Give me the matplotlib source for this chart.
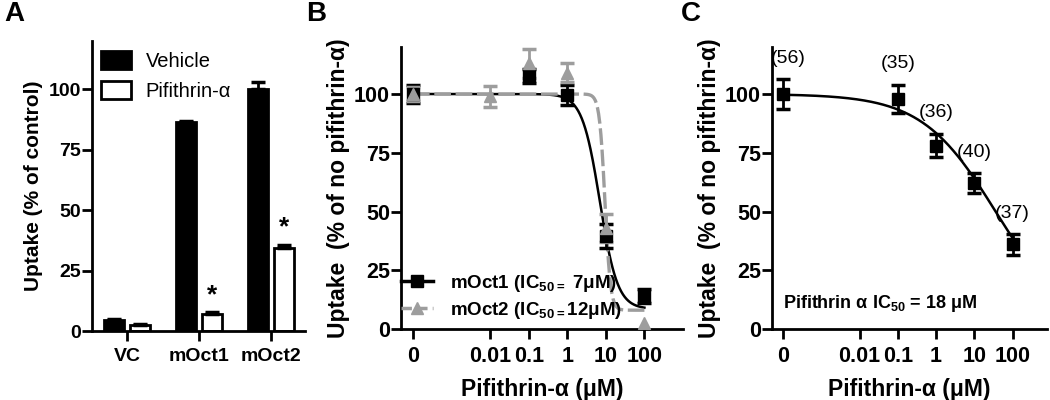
import numpy as np
import matplotlib
matplotlib.use("Agg")
import matplotlib.pyplot as plt
from matplotlib.lines import Line2D
from matplotlib.patches import Patch

plt.rcParams['font.family'] = ['Liberation Sans', 'DejaVu Sans']
plt.rcParams['font.weight'] = 'bold'
plt.rcParams['axes.labelweight'] = 'bold'
plt.rcParams['mathtext.fontset'] = 'custom'
plt.rcParams['mathtext.rm'] = 'Liberation Sans'
plt.rcParams['mathtext.bf'] = 'Liberation Sans:bold'
plt.rcParams['mathtext.default'] = 'bf'
plt.rcParams['axes.linewidth'] = 2

# --- panel A: uptake by cell line
groups = ['VC', 'mOct1', 'mOct2']
vehicle = [4.5, 86.5, 100]
vehicle_err = [0.5, 0.4, 3.2]
pifithrin = [2.3, 7.0, 34.5]
pifithrin_err = [0.4, 0.8, 1.2]
significant = [False, True, True]

# --- panel B: dose response mOct1 / mOct2
moct1_conc = [0, 0.1, 1, 10, 100]
moct1_uptake = [100, 107.5, 99.5, 39.5, 14]
moct1_err = [4, 3, 4.2, 5, 3]
moct2_conc = [0, 0.01, 0.1, 1, 10, 100]
moct2_uptake = [100, 99, 113, 109, 43, 2.5]
moct2_err = [3, 4.5, 6, 4, 6, 0]
# fitted curve params (top, bottom, midpoint, hill)
moct1_fit = (100, 8.5, 7, 1.9)
moct2_fit = (100, 8, 9.5, 6)

# --- panel C: dose response, n per point
c_conc = [0, 0.1, 1, 10, 100]
c_uptake = [100, 98, 78, 62, 36]
c_err = [6.2, 6, 5, 4.3, 4.3]
c_n = ['(56)', '(35)', '(36)', '(40)', '(37)']
c_fit = (100, 0, 36, 0.45)

conc_ticks = [0, 0.01, 0.1, 1, 10, 100]
conc_labels = ['0', '0.01', '0.1', '1', '10', '100']
ZERO_POS = 1e-4   # where "0" sits on the log axis
GRAY = '#9d9d9d'


def xpos(c):
    return [ZERO_POS if v == 0 else v for v in c]


def hill(x, top, bottom, mid, h):
    x = np.asarray(x)
    return bottom + (top - bottom) / (1 + (x / mid) ** h)


def style_axes(ax, tick_size):
    ax.spines['top'].set_visible(False)
    ax.spines['right'].set_visible(False)
    ax.tick_params(direction='out', length=7, width=2, labelsize=tick_size)
    ax.tick_params(axis='y', pad=1)
    ax.tick_params(axis='x', pad=5)


fig = plt.figure(figsize=(10.5, 4), dpi=100)

# ---------------- A
axA = fig.add_axes([92 / 1050, 1 - 331 / 400, 213 / 1050, 290 / 400])
x = np.arange(len(groups))
off, w = 0.18, 0.28
axA.bar(x - off, vehicle, w, color='black', edgecolor='black', linewidth=2,
        yerr=[[0] * 3, vehicle_err], error_kw=dict(elinewidth=2, capsize=5, capthick=2.5, ecolor='black'))
axA.bar(x + off, pifithrin, w, color='white', edgecolor='black', linewidth=2,
        yerr=[[0] * 3, pifithrin_err], error_kw=dict(elinewidth=2, capsize=5, capthick=2.5, ecolor='black'))
for i, s in enumerate(significant):
    if s:
        axA.text(x[i] + off, pifithrin[i] + pifithrin_err[i] + 7, '*', ha='center', va='center', fontsize=19)
axA.set_xlim(-0.49, 2.47)
axA.set_ylim(0, 120)
axA.set_yticks([0, 25, 50, 75, 100])
axA.set_xticks(x)
axA.set_xticklabels(groups)
style_axes(axA, 14)
axA.set_ylabel('Uptake (% of control)', fontsize=15, labelpad=4)
axA.legend(handles=[Patch(facecolor='black', edgecolor='black', linewidth=2),
                    Patch(facecolor='white', edgecolor='black', linewidth=2)],
           labels=['Vehicle', 'Pifithrin-α'], loc='upper left', bbox_to_anchor=(0.04, 0.965),
           frameon=False, borderpad=0, borderaxespad=0, handlelength=1.5, handleheight=1.0,
           handletextpad=0.75, labelspacing=0.5, prop=dict(size=14.5, weight='normal'))

# ---------------- B
axB = fig.add_axes([401 / 1050, 1 - 329 / 400, 282 / 1050, 282 / 400])
xs = np.logspace(-4, 2, 400)
axB.plot(xs, hill(xs, *moct1_fit), color='black', lw=1.8, zorder=2)
axB.plot(xs, hill(xs, *moct2_fit), color=GRAY, lw=2.4, ls=(0, (5, 1.4)), zorder=3)
axB.errorbar(xpos(moct1_conc), moct1_uptake, yerr=moct1_err, fmt='s', color='black', ms=8,
             elinewidth=2, capsize=5, capthick=2.5, zorder=4)
m2x = np.array(xpos(moct2_conc))
m2y = np.array(moct2_uptake)
m2e = np.array(moct2_err)
has_err = m2e > 0
axB.errorbar(m2x[has_err], m2y[has_err], yerr=m2e[has_err], fmt='none', ecolor=GRAY,
             elinewidth=2, capsize=5, capthick=2.5, zorder=4)
axB.plot(m2x, m2y, '^', color=GRAY, ms=8, zorder=5)
axB.set_xscale('log')
axB.set_xlim(10 ** -4.31, 10 ** 3.0)
axB.set_ylim(0, 120)
axB.set_yticks([0, 25, 50, 75, 100])
axB.set_xticks(xpos(conc_ticks))
axB.set_xticklabels(conc_labels)
axB.minorticks_off()
style_axes(axB, 15.5)
axB.set_ylabel('Uptake  (% of no pifithrin-α)', fontsize=16.5, labelpad=3)
axB.set_xlabel('Pifithrin-α (μM)', fontsize=16.5, labelpad=8)
axB.legend(handles=[Line2D([], [], color='black', lw=2.5, marker='s', ms=8),
                    Line2D([], [], color=GRAY, lw=2.5, ls=(0, (3, 1.5)), marker='^', ms=8)],
           labels=['mOct1 (IC$_{50=}$ 7μM)', 'mOct2 (IC$_{50=}$12μM)'],
           loc='lower left', bbox_to_anchor=(0.0, 0.03), frameon=False, borderpad=0,
           borderaxespad=0, handlelength=1.7, handletextpad=0.9, labelspacing=0.3,
           prop=dict(size=13.5, weight='bold'))

# ---------------- C
axC = fig.add_axes([772 / 1050, 1 - 329 / 400, 275 / 1050, 282 / 400])
axC.plot(xs, hill(xs, *c_fit), color='black', lw=1.8, zorder=2)
axC.errorbar(xpos(c_conc), c_uptake, yerr=c_err, fmt='s', color='black', ms=8,
             elinewidth=2, capsize=5, capthick=2.5, zorder=4)
for i, (cx, cy, e, n) in enumerate(zip(xpos(c_conc), c_uptake, c_err, c_n)):
    axC.annotate(n, (cx, cy + e + 9), xytext=(4 if i == 0 else 0, 0), textcoords='offset points',
                 ha='center', va='center', fontsize=14, fontweight='normal')
axC.text(ZERO_POS, 11, 'Pifithrin α IC$_{50}$ = 18 μM', fontsize=13, ha='left', va='center')
axC.set_xscale('log')
axC.set_xlim(10 ** -4.29, 10 ** 2.9)
axC.set_ylim(0, 120)
axC.set_yticks([0, 25, 50, 75, 100])
axC.set_xticks(xpos(conc_ticks))
axC.set_xticklabels(conc_labels)
axC.minorticks_off()
style_axes(axC, 15.5)
axC.set_ylabel('Uptake  (% of no pifithrin-α)', fontsize=16.5, labelpad=3)
axC.set_xlabel('Pifithrin-α (μM)', fontsize=16.5, labelpad=8)

# panel letters
fig.text(0.004, 0.965, 'A', fontsize=20, va='center')
fig.text(0.292, 0.965, 'B', fontsize=20, va='center')
fig.text(0.648, 0.965, 'C', fontsize=20, va='center')

fig.savefig('out.png', dpi=100)
